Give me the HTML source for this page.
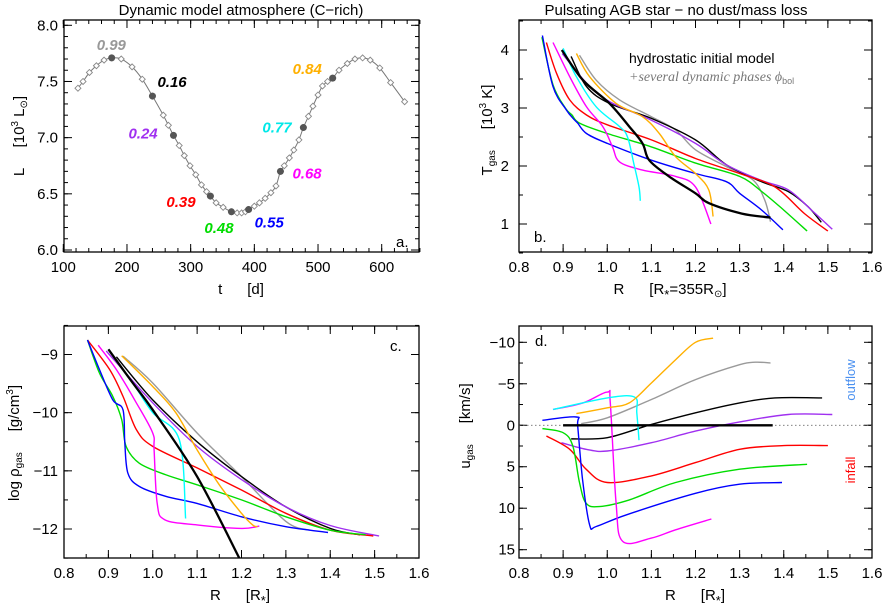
<!DOCTYPE html>
<html><head><meta charset="utf-8"><style>
html,body{margin:0;padding:0;background:#fff}
svg{display:block;font-family:"Liberation Sans",sans-serif}
svg text{white-space:pre}
</style></head><body>
<svg id="fig" width="884" height="606" viewBox="0 0 884 606"></svg>
<script>
// ---------- DATA ----------
const phaseLabels=["0.99","0.16","0.24","0.39","0.48","0.55","0.68","0.77","0.84"];
const phaseT=[176,240,273,331,364,391,441,477,523];
const phaseL=[7.71,7.37,7.02,6.48,6.34,6.36,6.70,7.09,7.53];
const lightT=[123,131,141,152,164,176,191,208,224,240,257,265,273,282,290,299,308,317,325,331,340,351,364,373,380,386,391,400,408,417,426,434,441,447,455,462,470,477,485,492,500,507,515,523,533,546,558,570,582,597,614,636];
const lightL=[7.44,7.50,7.58,7.64,7.69,7.71,7.70,7.63,7.52,7.37,7.20,7.11,7.02,6.93,6.84,6.75,6.67,6.58,6.52,6.48,6.42,6.38,6.34,6.33,6.33,6.34,6.36,6.39,6.42,6.46,6.51,6.57,6.70,6.75,6.82,6.89,6.98,7.09,7.19,7.28,7.38,7.46,7.50,7.53,7.60,7.66,7.70,7.71,7.69,7.62,7.49,7.32];

const seriesNames=["gray","black","purple","red","green","blue","magenta","cyan","orange","hydro"];
const seriesColors=["#9a9a9a","#000","#a030f0","#ff0000","#00dd00","#0000ff","#ff00ff","#00ffff","#ffb000","#000"];

// panel b: T_gas [10^3 K] vs R
const bGray=[[0.937,3.91],[0.975,3.48],[1.028,3.14],[1.1,2.85],[1.155,2.62],[1.2,2.28],[1.27,1.99],[1.33,1.76],[1.357,1.41],[1.37,1.04]];
const bBlack=[[0.918,3.89],[0.953,3.37],[1.005,3.08],[1.1,2.82],[1.2,2.45],[1.27,2.02],[1.35,1.73],[1.41,1.56],[1.455,1.3],[1.485,1.03]];
const bPurple=[[0.898,3.94],[0.953,3.43],[1.005,3.11],[1.1,2.79],[1.2,2.39],[1.27,2.02],[1.35,1.75],[1.41,1.59],[1.463,1.24],[1.51,0.91]];
const bRed=[[0.862,4.13],[0.885,3.6],[0.915,3.14],[0.953,2.88],[1.0,2.71],[1.1,2.45],[1.2,2.13],[1.3,1.87],[1.38,1.64],[1.447,1.18],[1.5,0.88]];
const bGreen=[[0.852,4.22],[0.877,3.4],[0.905,3.0],[0.92,2.88],[0.937,2.74],[1.0,2.56],[1.1,2.33],[1.2,2.05],[1.3,1.82],[1.35,1.56],[1.4,1.24],[1.453,0.88]];
const bBlue=[[0.853,4.25],[0.877,3.37],[0.907,2.97],[0.925,2.80],[0.933,2.74],[0.953,2.56],[1.0,2.39],[1.1,2.10],[1.2,1.87],[1.27,1.73],[1.3,1.53],[1.35,1.24],[1.398,0.9]];
const bMagenta=[[0.877,4.13],[0.915,3.54],[0.953,3.02],[0.99,2.68],[1.012,2.33],[1.028,2.07],[1.08,1.93],[1.155,1.82],[1.2,1.64],[1.235,1.0]];
const bCyan=[[0.9,4.03],[0.93,3.54],[0.975,3.02],[1.028,2.68],[1.046,2.5],[1.06,2.05],[1.072,1.64],[1.075,1.40]];
const bOrange=[[0.93,3.94],[0.96,3.54],[1.02,3.08],[1.08,2.85],[1.118,2.56],[1.155,2.16],[1.2,1.87],[1.23,1.59],[1.24,1.13]];
const bHydro=[[0.897,4.0],[0.945,3.48],[1.005,3.08],[1.05,2.68],[1.08,2.39],[1.095,2.1],[1.14,1.82],[1.2,1.53],[1.23,1.36],[1.305,1.18],[1.37,1.11]];

// panel c: log rho vs R
const cGray=[[0.933,-9.03],[1.0,-9.49],[1.1,-10.35],[1.2,-11.1],[1.3,-11.87],[1.354,-12.02]];
const cBlack=[[0.918,-9.04],[1.0,-9.78],[1.1,-10.5],[1.2,-11.1],[1.3,-11.62],[1.4,-11.99],[1.467,-12.1]];
const cPurple=[[0.895,-8.94],[1.0,-9.83],[1.1,-10.58],[1.2,-11.15],[1.3,-11.62],[1.4,-11.94],[1.51,-12.12]];
const cRed=[[0.853,-8.75],[0.903,-9.26],[0.933,-9.72],[0.963,-10.29],[1.0,-10.58],[1.1,-10.95],[1.2,-11.33],[1.3,-11.73],[1.4,-12.02],[1.497,-12.12]];
const cGreen=[[0.853,-8.75],[0.88,-9.32],[0.91,-9.72],[0.93,-10.12],[0.94,-10.58],[0.97,-10.87],[1.03,-11.07],[1.1,-11.24],[1.2,-11.5],[1.3,-11.79],[1.4,-12.02],[1.48,-12.1]];
const cBlue=[[0.853,-8.75],[0.88,-9.26],[0.91,-9.78],[0.933,-9.95],[0.937,-10.52],[0.944,-11.04],[0.97,-11.27],[1.03,-11.44],[1.1,-11.56],[1.2,-11.79],[1.3,-11.96],[1.395,-12.06]];
const cMagenta=[[0.877,-8.84],[0.918,-9.26],[0.963,-9.83],[1.0,-10.35],[1.003,-10.64],[1.01,-11.56],[1.027,-11.84],[1.1,-11.93],[1.2,-11.99],[1.24,-11.95]];
const cCyan=[[0.9,-8.91],[0.955,-9.49],[1.0,-10.0],[1.06,-10.47],[1.074,-11.82]];
const cOrange=[[0.93,-9.02],[1.0,-9.55],[1.052,-10.0],[1.1,-10.64],[1.15,-11.24],[1.2,-11.73],[1.225,-11.93],[1.236,-11.96]];
const cHydro=[[0.9,-8.91],[0.955,-9.49],[1.0,-9.95],[1.1,-11.1],[1.195,-12.5]];

// panel d: u_gas [km/s] vs R (positive = infall, plotted downward)
const dGray=[[0.941,-0.2],[1.0,-0.9],[1.1,-3.1],[1.2,-5.5],[1.3,-7.3],[1.336,-7.6],[1.37,-7.5]];
const dBlack=[[0.918,1.65],[1.0,1.5],[1.1,-0.1],[1.2,-1.5],[1.3,-2.7],[1.38,-3.3],[1.487,-3.3]];
const dPurple=[[0.896,2.1],[0.952,2.9],[1.0,3.1],[1.1,2.1],[1.2,0.7],[1.3,-0.4],[1.41,-1.3],[1.51,-1.3]];
const dRed=[[0.862,1.3],[0.915,2.9],[0.952,5.3],[1.0,6.9],[1.1,6.1],[1.2,4.5],[1.3,2.9],[1.4,2.45],[1.5,2.45]];
const dGreen=[[0.853,0.4],[0.9,0.9],[0.922,2.5],[0.937,6.9],[0.952,9.4],[0.982,9.8],[1.05,9.0],[1.155,6.9],[1.3,5.3],[1.453,4.7]];
const dBlue=[[0.853,-0.6],[0.93,-1.0],[0.933,0.1],[0.944,6.5],[0.96,12.0],[0.975,12.2],[1.043,10.8],[1.2,8.2],[1.3,7.1],[1.396,6.9]];
const dMagenta=[[0.877,-1.9],[0.945,-2.7],[1.0,-4.0],[1.007,-2.7],[1.02,9.4],[1.035,14.0],[1.1,13.6],[1.155,12.6],[1.236,11.3]];
const dCyan=[[0.877,-1.9],[1.0,-3.3],[1.062,-3.4],[1.067,-1.5],[1.072,1.8]];
const dOrange=[[0.93,-1.4],[1.0,-2.1],[1.05,-2.7],[1.1,-5.1],[1.155,-7.9],[1.2,-10.0],[1.24,-10.5]];
const dHydro=[[0.9,0],[1.375,0]];

const rTicks=[0.8,0.9,1.0,1.1,1.2,1.3,1.4,1.5,1.6];
const rTickLabels=["0.8","0.9","1.0","1.1","1.2","1.3","1.4","1.5","1.6"];

// ---------- DRAWING ----------
const NS="http://www.w3.org/2000/svg";
const svg=document.getElementById('fig');
function el(tag,attrs,parent){const e=document.createElementNS(NS,tag);for(const k in attrs)e.setAttribute(k,attrs[k]);(parent||svg).appendChild(e);return e;}
function txt(s,x,y,attrs,parent){const t=el('text',Object.assign({x:x,y:y},attrs),parent);t.textContent=s;return t;}
function lin(d0,d1,p0,p1){return v=>p0+(v-d0)*(p1-p0)/(d1-d0);}

function smoothPath(pts){
  if(pts.length<3){return 'M'+pts.map(p=>p[0].toFixed(1)+','+p[1].toFixed(1)).join('L');}
  let d='M'+pts[0][0].toFixed(1)+','+pts[0][1].toFixed(1);
  for(let i=0;i<pts.length-1;i++){
    const p0=pts[i-1]||pts[i],p1=pts[i],p2=pts[i+1],p3=pts[i+2]||p2;
    const c1=[p1[0]+(p2[0]-p0[0])/6,p1[1]+(p2[1]-p0[1])/6];
    const c2=[p2[0]-(p3[0]-p1[0])/6,p2[1]-(p3[1]-p1[1])/6];
    d+='C'+c1[0].toFixed(1)+','+c1[1].toFixed(1)+' '+c2[0].toFixed(1)+','+c2[1].toFixed(1)+' '+p2[0].toFixed(1)+','+p2[1].toFixed(1);
  }
  return d;
}

function frame(g,box,xs,ys,xMaj,xMin,yMaj,yMin,xLabels,yLabels,xLabY,yLabX){
  el('rect',{x:box.l,y:box.t,width:box.r-box.l,height:box.b-box.t,fill:'none',stroke:'#000','stroke-width':1.3},g);
  const tk=el('g',{stroke:'#000','stroke-width':1},g);
  
  
  xMin.forEach(v=>{const x=xs(v);el('line',{x1:x,x2:x,y1:box.b,y2:box.b-4},tk);el('line',{x1:x,x2:x,y1:box.t,y2:box.t+4},tk);});
  xMaj.forEach(v=>{const x=xs(v);el('line',{x1:x,x2:x,y1:box.b,y2:box.b-8},tk);el('line',{x1:x,x2:x,y1:box.t,y2:box.t+8},tk);});
  yMin.forEach(v=>{const y=ys(v);el('line',{x1:box.l,x2:box.l+4,y1:y,y2:y},tk);el('line',{x1:box.r,x2:box.r-4,y1:y,y2:y},tk);});
  yMaj.forEach(v=>{const y=ys(v);el('line',{x1:box.l,x2:box.l+8,y1:y,y2:y},tk);el('line',{x1:box.r,x2:box.r-8,y1:y,y2:y},tk);});
  xMaj.forEach((v,i)=>{const t=txt(xLabels[i],xs(v),xLabY,{'font-size':15,'text-anchor':'middle'},g);
    });
  yMaj.forEach((v,i)=>{const t=txt(yLabels[i],yLabX,ys(v)+5,{'font-size':15,'text-anchor':'end'},g);
    });
}
function range(a,b,s){const o=[];for(let v=a;v<=b+1e-9;v+=s)o.push(+v.toFixed(4));return o;}
function drawSeries(g,list,xs,ys,prefix){
  list.forEach((arr,i)=>{
    const p=el('path',{d:smoothPath(arr.map(q=>[xs(q[0]),ys(q[1])])),fill:'none',stroke:seriesColors[i],'stroke-width':seriesNames[i]==='hydro'?2.3:1.4,'stroke-linejoin':'round'},g);
    
    
  });
}

// ---- Panel a ----
{
  const g=el('g',{});
  
  
  const box={l:64,r:419,t:20,b:252};
  const xs=lin(100,600,63.3,381.7), ys=lin(8,6,25.3,250);
  frame(g,box,xs,ys,[100,200,300,400,500,600],range(100,660,20),[6,6.5,7,7.5,8],range(6,8,0.1),["100","200","300","400","500","600"],["6.0","6.5","7.0","7.5","8.0"],272,58);
  const pts=lightT.map((t,i)=>[xs(t),ys(lightL[i])]);
  const ln=el('path',{d:smoothPath(pts),fill:'none',stroke:'#777','stroke-width':1},g);
  
  pts.forEach(p=>{const d=el('path',{d:`M${p[0]-3},${p[1]}L${p[0]},${p[1]-3}L${p[0]+3},${p[1]}L${p[0]},${p[1]+3}Z`,fill:'#fff',stroke:'#888','stroke-width':0.9},g);
    });
  const labOff=[[-15,-8],[5,-9],[-45,3],[-44,11],[-27,21],[6,18],[12,7],[-41,5],[-40,-4]];
  const labCol=["#999","#000","#a030f0","#ff0000","#00dd00","#0000ff","#ff00ff","#00e8e8","#ffb000"];
  phaseT.forEach((t,i)=>{
    const c=el('circle',{cx:xs(t),cy:ys(phaseL[i]),r:3.5,fill:'#555'},g);
    
    const l=txt(phaseLabels[i],xs(t)+labOff[i][0],ys(phaseL[i])+labOff[i][1],{'font-size':15,'font-style':'italic','font-weight':'bold',fill:labCol[i]},g);
    
  });
  txt('a.',396,247,{'font-size':15},g);
  txt('Dynamic model atmosphere (C\u2212rich)',241,15,{'font-size':15,'text-anchor':'middle'},g);
  txt('t      [d]',241,294,{'font-size':15,'text-anchor':'middle'},g);
  const yt=el('text',{x:0,y:0,'font-size':15,'text-anchor':'middle',transform:'translate(24,136) rotate(-90)'},g);
  
  yt.innerHTML='L     [10<tspan font-size="10" dy="-6">3</tspan><tspan dy="6"> L</tspan><tspan font-size="10" dy="3">\u2299</tspan><tspan dy="-3">]</tspan>';
}

// ---- Panel b ----
{
  const g=el('g',{});
  
  
  const box={l:519,r:872,t:20,b:252};
  const xs=lin(0.8,1.6,519,872), ys=lin(4,1,50,224);
  frame(g,box,xs,ys,rTicks,range(0.8,1.6,0.05),[1,2,3,4],range(0.5,4.5,0.5),rTickLabels,["1","2","3","4"],272,509);
  drawSeries(g,[bGray,bBlack,bPurple,bRed,bGreen,bBlue,bMagenta,bCyan,bOrange,bHydro],xs,ys,'temperature');
  txt('b.',534,242,{'font-size':15},g);
  txt('Pulsating AGB star \u2212 no dust/mass loss',676,15,{'font-size':15,'text-anchor':'middle'},g);
  txt('hydrostatic initial model',629,63,{'font-size':14},g);
  const l2=el('text',{x:629,y:81,'font-size':14,fill:'#777','font-family':'"Liberation Serif",serif','font-style':'italic'},g);
  
  l2.innerHTML='+several dynamic phases \u03d5<tspan font-size="9" dy="3" font-style="normal" font-family="Liberation Sans">bol</tspan>';
  const xt=el('text',{x:670,y:294,'font-size':15,'text-anchor':'middle'},g);
  
  xt.innerHTML='R      [R<tspan font-size="13" dy="5">*</tspan><tspan dy="-5">=355R</tspan><tspan font-size="10" dy="3">\u2299</tspan><tspan dy="-3">]</tspan>';
  const yt=el('text',{x:0,y:0,'font-size':15,'text-anchor':'middle',transform:'translate(492,130) rotate(-90)'},g);
  
  yt.innerHTML='T<tspan font-size="10" dy="3">gas</tspan><tspan dy="-3">     [10</tspan><tspan font-size="10" dy="-6">3</tspan><tspan dy="6"> K]</tspan>';
}

// ---- Panel c ----
{
  const g=el('g',{});
  
  
  const box={l:64,r:419,t:326,b:558};
  const xs=lin(0.8,1.6,64,419), ys=lin(-9,-12,354.5,529);
  const cp=el('clipPath',{id:'clipc'},g);el('rect',{x:box.l,y:box.t,width:box.r-box.l,height:box.b-box.t},cp);
  frame(g,box,xs,ys,rTicks,range(0.8,1.6,0.05),[-12,-11,-10,-9],range(-12.5,-8.5,0.5),rTickLabels,["\u221212","\u221211","\u221210","\u22129"],578,58);
  const sg=el('g',{'clip-path':'url(#clipc)'},g);
  drawSeries(sg,[cGray,cBlack,cPurple,cRed,cGreen,cBlue,cMagenta,cCyan,cOrange,cHydro],xs,ys,'density');
  txt('c.',390,351,{'font-size':15},g);
  const xt=el('text',{x:240,y:600,'font-size':15,'text-anchor':'middle'},g);
  
  xt.innerHTML='R      [R<tspan font-size="13" dy="5">*</tspan><tspan dy="-5">]</tspan>';
  const yt=el('text',{x:0,y:0,'font-size':15,'text-anchor':'middle',transform:'translate(19,443) rotate(-90)'},g);
  
  yt.innerHTML='log \u03c1<tspan font-size="10" dy="3">gas</tspan><tspan dy="-3">     [g/cm</tspan><tspan font-size="10" dy="-6">3</tspan><tspan dy="6">]</tspan>';
}

// ---- Panel d ----
{
  const g=el('g',{});
  
  
  const box={l:519,r:872,t:326,b:558};
  const xs=lin(0.8,1.6,519,872), ys=lin(-10,15,342.3,549.7);
  frame(g,box,xs,ys,rTicks,range(0.8,1.6,0.05),[-10,-5,0,5,10,15],range(-10,15,2.5),rTickLabels,["\u221210","\u22125","0","5","10","15"],578,515);
  const z=el('line',{x1:box.l,x2:box.r,y1:ys(0),y2:ys(0),stroke:'#555','stroke-width':0.8,'stroke-dasharray':'1.5,2.5'},g);
  
  drawSeries(g,[dGray,dBlack,dPurple,dRed,dGreen,dBlue,dMagenta,dCyan,dOrange,dHydro],xs,ys,'velocity');
  txt('d.',535,346,{'font-size':15},g);
  const of=txt('outflow',0,0,{'font-size':13,fill:'#4a90f0','text-anchor':'middle',transform:'translate(855,380) rotate(-90)'},g);
  
  const inf=txt('infall',0,0,{'font-size':13,fill:'#ff0000','text-anchor':'middle',transform:'translate(855,470) rotate(-90)'},g);
  
  const xt=el('text',{x:695,y:600,'font-size':15,'text-anchor':'middle'},g);
  
  xt.innerHTML='R      [R<tspan font-size="13" dy="5">*</tspan><tspan dy="-5">]</tspan>';
  const yt=el('text',{x:0,y:0,'font-size':15,'text-anchor':'middle',transform:'translate(470,426) rotate(-90)'},g);
  
  yt.innerHTML='u<tspan font-size="10" dy="3">gas</tspan><tspan dy="-3">     [km/s]</tspan>';
}
</script>
</body></html>
